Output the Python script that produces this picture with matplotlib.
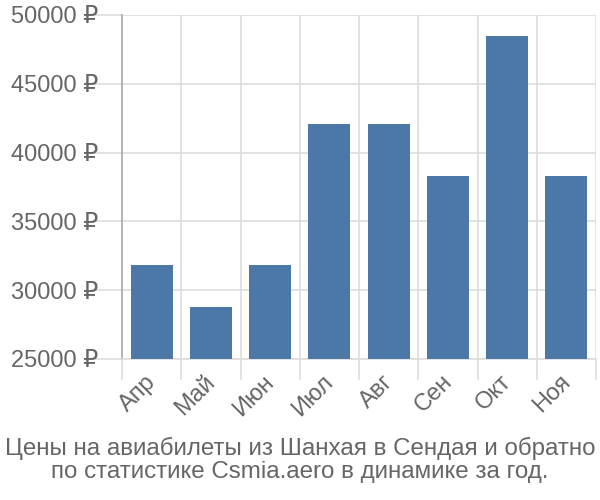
import matplotlib
matplotlib.use("Agg")
import matplotlib.pyplot as plt
import matplotlib.transforms as mtransforms
import numpy as np

months = ["Апр", "Май", "Июн", "Июл", "Авг", "Сен", "Окт", "Ноя"]
prices = [31830, 28780, 31830, 42080, 42080, 38300, 48470, 38300]
yticks = [25000, 30000, 35000, 40000, 45000, 50000]
title = "Цены на авиабилеты из Шанхая в Сендая и обратно\nпо статистике Csmia.aero в динамике за год."

plt.rcParams['font.family'] = ['Liberation Sans', 'DejaVu Sans']
text_color = "#666666"
grid_color = "#dddddd"

fig = plt.figure(figsize=(6, 5), dpi=100)
ax = fig.add_axes([122/600, 1 - 359/500, (596-122)/600, (359-15)/500])

x = np.arange(len(months))
ax.bar(x, prices, width=0.71, color="#4c78a8", zorder=3)

ax.set_xlim(-0.5, len(months) - 0.5)
ax.set_ylim(yticks[0], yticks[-1])
ax.set_yticks(yticks)
ax.set_yticklabels([f"{v} ₽" for v in yticks])
ax.set_xticks(x)
ax.set_xticklabels(months, rotation=45, ha="right", rotation_mode="anchor")
ax.set_xticks(np.arange(len(months) + 1) - 0.5, minor=True)

ax.tick_params(axis="x", which="major", length=0, pad=10, labelsize=17, labelcolor=text_color)
ax.tick_params(axis="x", which="minor", length=15, color=grid_color, width=1.2)
ax.tick_params(axis="y", length=22, color=grid_color, width=1.2, pad=-5, labelsize=17, labelcolor=text_color)

offset = mtransforms.ScaledTranslation(-7/100, 2/100, fig.dpi_scale_trans)
for lbl in ax.get_xticklabels():
    lbl.set_transform(lbl.get_transform() + offset)

ax.grid(True, axis="y", which="major", color=grid_color, linewidth=1.2, zorder=0)
ax.grid(True, axis="x", which="minor", color=grid_color, linewidth=1.2, zorder=0)
ax.grid(False, axis="x", which="major")

for s in ["top", "right"]:
    ax.spines[s].set_visible(False)
ax.spines["left"].set_color("#aaaaaa")
ax.spines["left"].set_linewidth(1.2)
ax.spines["bottom"].set_color(grid_color)
ax.spines["bottom"].set_linewidth(1.2)

fig.text(0.5, 1 - 460/500, title, ha="center", va="center", fontsize=17.4,
         color=text_color, linespacing=1.1)

fig.savefig("out.png", dpi=100)
